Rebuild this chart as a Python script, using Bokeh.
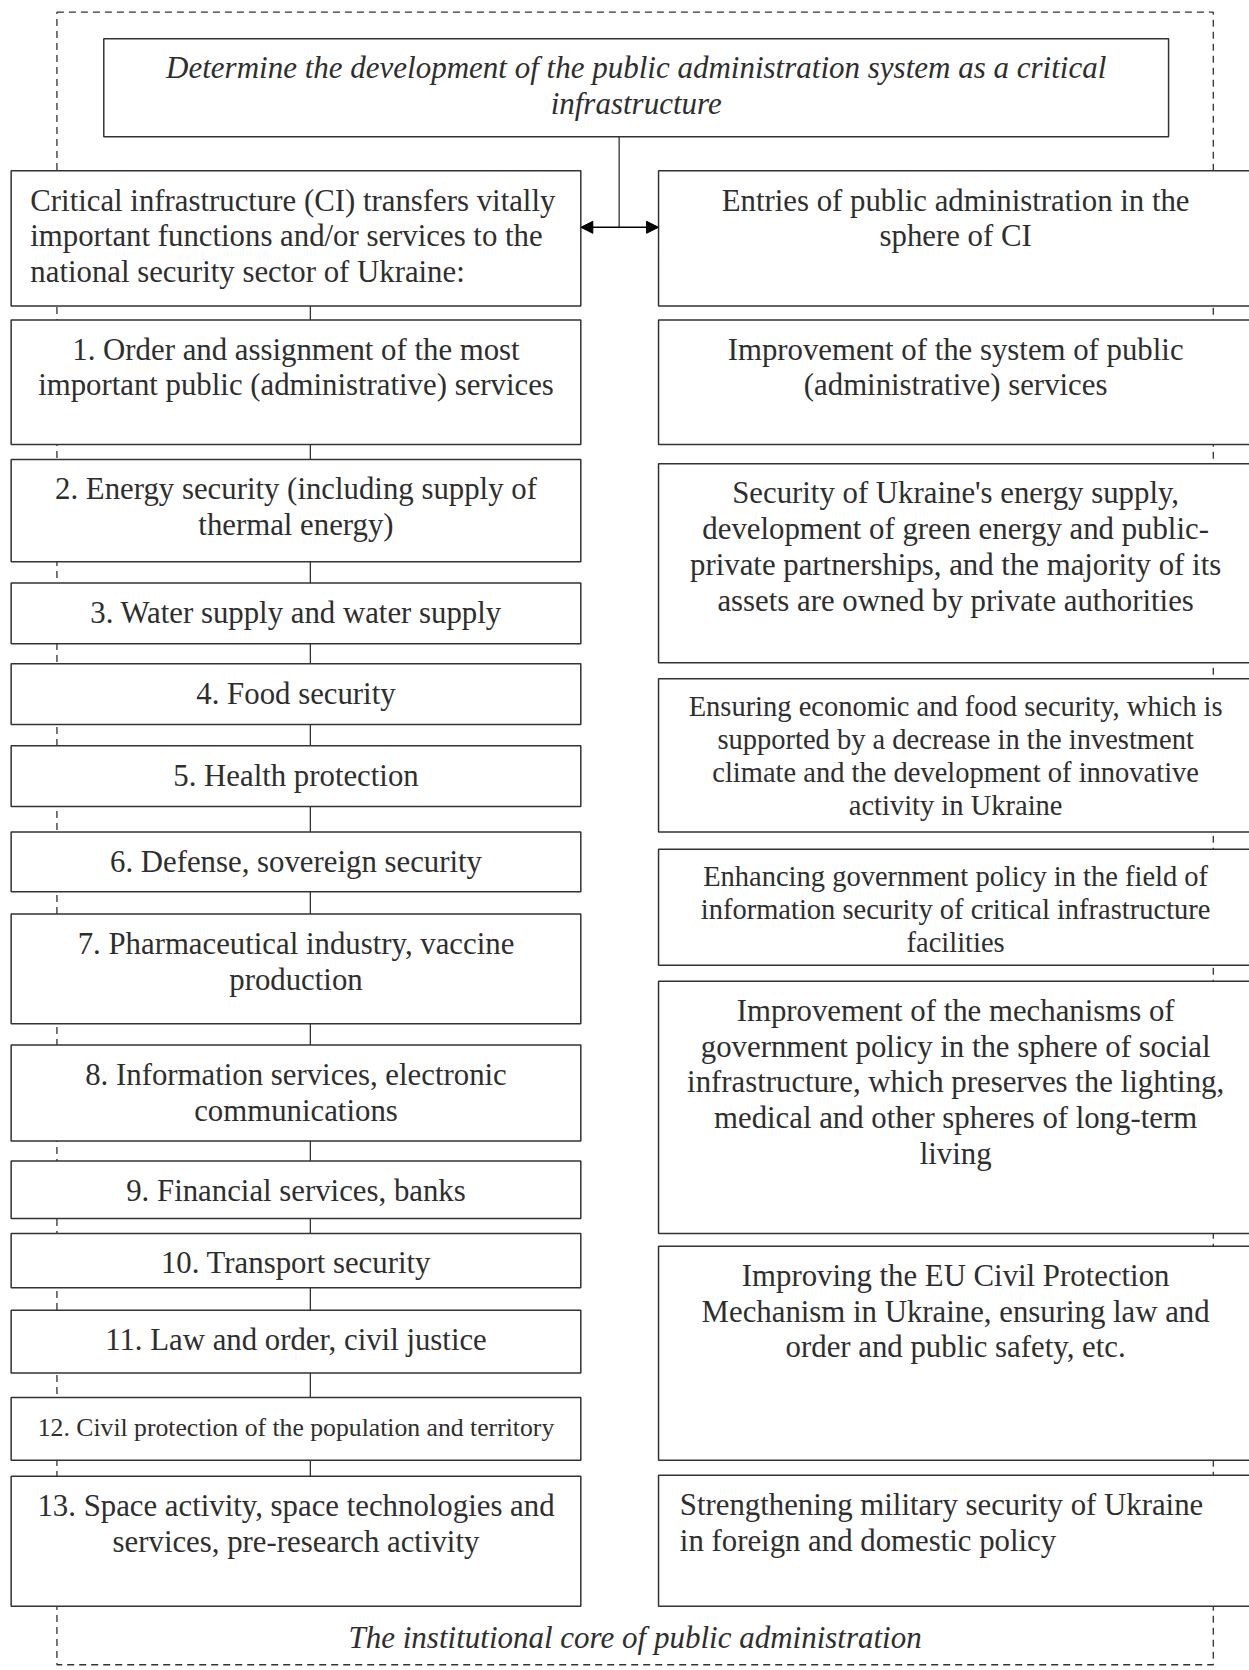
from bokeh.plotting import figure
from bokeh.models import Arrow, NormalHead, ColumnDataSource
from bokeh.core.properties import value
from bokeh.embed import file_html
from bokeh.resources import INLINE

# ---------------- texts ----------------
top_text = ["Determine the development of the public administration system as a critical",
            "infrastructure"]
left_header = ["Critical infrastructure (CI) transfers vitally",
               "important functions and/or services to the",
               "national security sector of Ukraine:"]
right_header = ["Entries of public administration in the", "sphere of CI"]
left_items = [
    ["1. Order and assignment of the most", "important public (administrative) services"],
    ["2. Energy security (including supply of", "thermal energy)"],
    ["3. Water supply and water supply"],
    ["4. Food security"],
    ["5. Health protection"],
    ["6. Defense, sovereign security"],
    ["7. Pharmaceutical industry, vaccine", "production"],
    ["8. Information services, electronic", "communications"],
    ["9. Financial services, banks"],
    ["10. Transport security"],
    ["11. Law and order, civil justice"],
    ["12. Civil protection of the population and territory"],
    ["13. Space activity, space technologies and", "services, pre-research activity"],
]
right_items = [
    ["Improvement of the system of public", "(administrative) services"],
    ["Security of Ukraine's energy supply,", "development of green energy and public-",
     "private partnerships, and the majority of its", "assets are owned by private authorities"],
    ["Ensuring economic and food security, which is", "supported by a decrease in the investment",
     "climate and the development of innovative", "activity in Ukraine"],
    ["Enhancing government policy in the field of", "information security of critical infrastructure",
     "facilities"],
    ["Improvement of the mechanisms of", "government policy in the sphere of social",
     "infrastructure, which preserves the lighting,", "medical and other spheres of long-term",
     "living"],
    ["Improving the EU Civil Protection", "Mechanism in Ukraine, ensuring law and",
     "order and public safety, etc."],
    ["Strengthening military security of Ukraine", "in foreign and domestic policy"],
]
footer_text = "The institutional core of public administration"

# ---------------- layout (reference units, scaled below) ----------------
S = 1249 / 1173
left_tops = [300, 431, 547, 623, 700, 781, 858, 981, 1090, 1158, 1230, 1312, 1386]
left_bottoms = [417, 527, 604, 680, 757, 837, 961, 1071, 1144, 1209, 1289, 1371, 1508]
right_tops = [300, 435, 637, 797, 921, 1170, 1385]
right_bottoms = [417, 622, 781, 906, 1158, 1371, 1508]
LX0, LX1 = 10, 545
RX0, RX1 = 618, 1176

FONT = value("Liberation Serif")
TXT = "#2e2e2e"
EDGE = "#333333"
NORMAL = "30.8px"

W, H = 1249, 1668
p = figure(width=W, height=H, x_range=(0, W), y_range=(H, 0),
           output_backend="svg", toolbar_location=None, min_border=0,
           x_axis_type=None, y_axis_type=None)
p.grid.visible = False
p.outline_line_color = None
p.background_fill_color = "white"
p.border_fill_color = "white"

# dashed outer frame
p.quad(left=[53 * S], right=[1139 * S], top=[11 * S], bottom=[1563 * S],
       fill_color=None, line_color=EDGE, line_width=1.3, line_dash="7 5")

# connectors
p.segment(x0=[291 * S], y0=[287 * S], x1=[291 * S], y1=[1386 * S],
          line_color=EDGE, line_width=1.3)
p.segment(x0=[581 * S], y0=[128 * S], x1=[581 * S], y1=[213 * S],
          line_color=EDGE, line_width=1.3)

boxes = dict(l=[], r=[], t=[], b=[])
def add_box(x0, x1, y0, y1):
    boxes["l"].append(x0 * S); boxes["r"].append(x1 * S)
    boxes["t"].append(y0 * S); boxes["b"].append(y1 * S)

add_box(97, 1097, 36, 128)
add_box(LX0, LX1, 160, 287)
add_box(RX0, RX1, 160, 287)
for t, b in zip(left_tops, left_bottoms):
    add_box(LX0, LX1, t, b)
for t, b in zip(right_tops, right_bottoms):
    add_box(RX0, RX1, t, b)
p.quad(left="l", right="r", top="t", bottom="b", source=ColumnDataSource(boxes),
       fill_color="white", line_color=EDGE, line_width=1.5)

# double arrow
for xs, xe in [(581 * S, LX1 * S), (581 * S, RX0 * S)]:
    p.add_layout(Arrow(end=NormalHead(size=12, fill_color="black", line_color="black"),
                       x_start=xs, y_start=213 * S, x_end=xe, y_end=213 * S,
                       line_color="black", line_width=1.4))

def draw_lines(lines, x, top, size, spacing=33.5, align="center", style="normal", first=28):
    ys = [(top + first + i * spacing) * S for i in range(len(lines))]
    p.text(x=[x * S] * len(lines), y=ys, text=lines, text_align=align,
           text_baseline="middle", text_font=FONT, text_font_size=size,
           text_font_style=style, text_color=TXT)

draw_lines(top_text, 597, 36, "31px", spacing=34, style="italic", first=27)
draw_lines(left_header, 28, 160, NORMAL, align="left")
draw_lines(right_header, 897, 160, NORMAL)

for i, (lines, t) in enumerate(zip(left_items, left_tops)):
    size = "25.7px" if i == 11 else NORMAL
    draw_lines(lines, 277.5, t, size)

for i, (lines, t) in enumerate(zip(right_items, right_tops)):
    if i in (2, 3):
        draw_lines(lines, 897, t, "28.5px", spacing=31, first=26)
    elif i == 6:
        draw_lines(lines, 638, t, NORMAL, align="left")
    else:
        draw_lines(lines, 897, t, NORMAL)

p.text(x=[596 * S], y=[1537 * S], text=[footer_text], text_align="center",
       text_baseline="middle", text_font=FONT, text_font_size="31px",
       text_font_style="italic", text_color=TXT)

open("out.html", "w").write(file_html(p, INLINE))
